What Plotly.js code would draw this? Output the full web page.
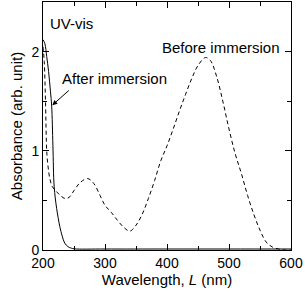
<!DOCTYPE html>
<html><head><meta charset="utf-8">
<script src="https://cdn.plot.ly/plotly-3.0.1.min.js"></script>
<style>html,body{margin:0;padding:0;background:#fff}#c{width:305px;height:292px}</style>
</head><body><div id="c"></div>
<script>
const beforeX = [200,202,204,206,208,211,215,220,228,235,242,250,260,272,282,292,300,310,320,330,340,350,360,370,380,390,400,410,420,430,440,450,462,470,480,490,500,510,520,530,540,550,560,570,580,590,600];
const beforeY = [2.05,1.9,1.5,1.0,0.85,0.72,0.64,0.6,0.55,0.52,0.53,0.6,0.68,0.72,0.67,0.55,0.45,0.38,0.3,0.23,0.19,0.25,0.36,0.52,0.7,0.9,1.05,1.22,1.4,1.57,1.73,1.86,1.94,1.91,1.75,1.5,1.22,0.97,0.77,0.55,0.36,0.2,0.08,0.03,0.01,0.0,0.0];
const afterX = [200,203,206,209,212,214,216,218,222,227,231,235,240,245,250,300,400,500,600];
const afterY = [2.12,2.08,1.95,1.8,1.6,1.45,1.05,0.64,0.42,0.24,0.14,0.07,0.035,0.02,0.012,0.01,0.01,0.01,0.01];
const labels = {uv:"UV-vis", before:"Before immersion", after:"After immersion"};

const font = {family:"Liberation Sans, Arial, sans-serif", size:14, color:"#000"};
const font15 = {family:"Liberation Sans, Arial, sans-serif", size:15, color:"#000"};
const traces = [
  {x:beforeX, y:beforeY, mode:"lines", line:{color:"#000", width:1, dash:"4px,3px", shape:"spline"}, hoverinfo:"skip"},
  {x:afterX, y:afterY, mode:"lines", line:{color:"#000", width:1, shape:"spline"}, hoverinfo:"skip"}
];
const layout = {
  width:305, height:292,
  margin:{l:43, r:14, t:2, b:42},
  showlegend:false,
  paper_bgcolor:"#fff", plot_bgcolor:"#fff",
  font:font,
  xaxis:{range:[200,600], tickvals:[200,300,400,500,600], ticks:"inside", ticklen:6, tickcolor:"#000",
    showline:true, linecolor:"#000", linewidth:1, mirror:"ticks", showgrid:false, zeroline:false,
    minor:{tickvals:[250,350,450,550], ticks:"inside", ticklen:4, tickcolor:"#000"},
    tickfont:font, title:{text:"Wavelength, <i>L</i> (nm)", font:font15, standoff:2}},
  yaxis:{range:[0,2.5], tickvals:[0,1,2], ticks:"inside", ticklen:6, tickcolor:"#000",
    showline:true, linecolor:"#000", linewidth:1, mirror:"ticks", showgrid:false, zeroline:false,
    minor:{tickvals:[0.5,1.5], ticks:"inside", ticklen:4, tickcolor:"#000"},
    tickfont:font, title:{text:"Absorbance (arb. unit)", font:font15, standoff:5}},
  annotations:[
    {xref:"paper", yref:"paper", x:0.02, y:0.915, xanchor:"left", yanchor:"middle", text:labels.uv, showarrow:false, font:font15},
    {xref:"paper", yref:"paper", x:0.965, y:0.818, xanchor:"right", yanchor:"middle", text:labels.before, showarrow:false, font:font15},
    {xref:"x", yref:"y", x:215, y:1.46, ax:18, ay:-16, axref:"pixel", ayref:"pixel", text:"", showarrow:true, arrowhead:2, arrowsize:1, arrowwidth:1, arrowcolor:"#000"},
    {xref:"paper", yref:"paper", x:0.068, y:0.69, xanchor:"left", yanchor:"middle", text:labels.after, showarrow:false, font:font15}
  ]
};
Plotly.newPlot("c", traces, layout, {staticPlot:true});
</script></body></html>
